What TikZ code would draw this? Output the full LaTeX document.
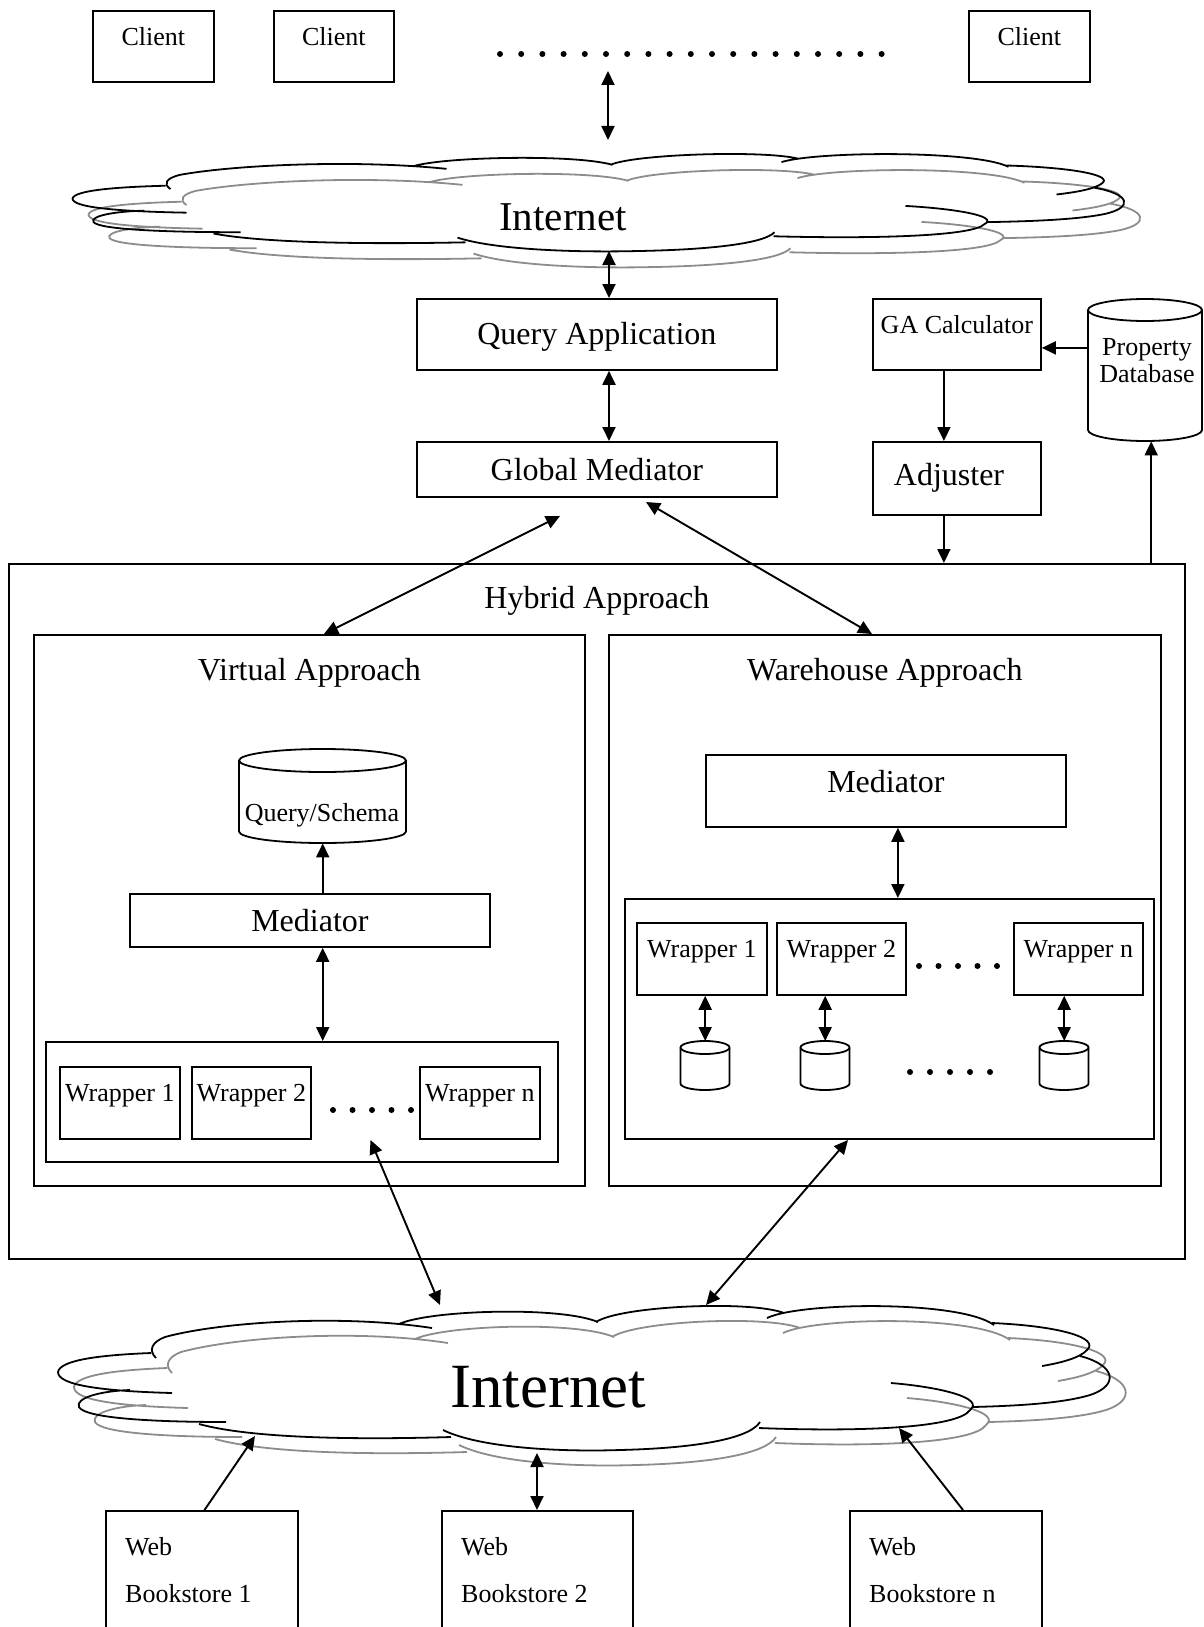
\documentclass[tikz,border=0pt]{standalone}
\usepackage{fontspec}
\setmainfont{Liberation Serif}
\usetikzlibrary{arrows.meta,calc}
\definecolor{cloudgray}{gray}{0.55}
\newcommand\dfsmall{\fontsize{26}{28}\selectfont}
\newcommand\dflarge{\fontsize{32}{36}\selectfont}
% cylinder: left, right, top, bottom, y radius
\newcommand\dbcyl[5]{%
  \draw[cylline] ({(#1+#2)/2},{#3+#5}) ellipse [x radius={(#2-#1)/2}, y radius={#5}];
  \draw[cylline] (#1,{#3+#5}) -- (#1,{#4-#5}) arc [start angle=180, end angle=0, x radius={(#2-#1)/2}, y radius={#5}] -- (#2,{#3+#5});
}
\newcommand\cloudlines[1]{%
  \draw[cl,#1]
   (156,1358) .. controls (148,1350) and (152,1342) .. (165,1337) .. controls (220,1322) and (340,1314) .. (432,1328)
   (399,1324) .. controls (430,1310) and (560,1306) .. (598,1322)
   (596,1322) .. controls (620,1306) and (750,1300) .. (784,1313)
   (767,1318) .. controls (800,1302) and (960,1300) .. (994,1325)
   (992,1323) .. controls (1060,1326) and (1100,1338) .. (1087,1350) .. controls (1080,1358) and (1060,1363) .. (1042,1366)
   (1080,1356) .. controls (1115,1365) and (1120,1385) .. (1090,1395) .. controls (1060,1404) and (1010,1406) .. (973,1407)
   (891,1383) .. controls (940,1387) and (985,1398) .. (970,1410) .. controls (958,1428) and (860,1432) .. (759,1428)
   (443,1430) .. controls (480,1448) and (560,1452) .. (620,1450) .. controls (700,1448) and (750,1438) .. (760,1422)
   (199,1424) .. controls (250,1438) and (350,1440) .. (451,1437)
   (226,1422) .. controls (150,1422) and (85,1418) .. (79,1407) .. controls (75,1398) and (100,1391) .. (130,1390)
   (172,1393) .. controls (100,1391) and (58,1385) .. (58,1372) .. controls (60,1360) and (100,1355) .. (151,1353);
}
\begin{document}
\begin{tikzpicture}[x=1pt,y=-1pt,
  bx/.style={draw, line width=1.8pt, inner sep=0pt, anchor=north west},
  phant/.style={inner sep=0pt, anchor=north west},
  txt/.style={inner sep=0pt},
  cylline/.style={line width=1.8pt},
  cl/.style={line width=1.8pt},
  onearr/.style={-{Triangle[length=14pt,width=13pt]}, line width=1.9pt},
  twoarr/.style={{Triangle[length=14pt,width=13pt]}-{Triangle[length=14pt,width=13pt]}, line width=1.9pt},
]
\useasboundingbox (0,0) rectangle (1204,1627);
\clip (0,0) rectangle (1204,1627);

% ---------- clients ----------
\node[bx, minimum width=121, text height=35, text depth=36, font=\dfsmall] (c1) at (92,10) {Client};
\node[bx, minimum width=120, text height=35, text depth=36, font=\dfsmall] (c2) at (273,10) {Client};
\node[bx, minimum width=121, text height=35, text depth=36, font=\dfsmall] (c3) at (968,10) {Client};
\foreach \i in {0,...,18} \fill (500+21.2*\i,54) circle [radius=3];
\coordinate (dotsdown) at (608,71);
\coordinate (tcltop) at (608,140);
\draw[twoarr] (dotsdown) -- (tcltop);

% ---------- clouds ----------
\begin{scope}[shift={(16,16)}]
  \begin{scope}[shift={(14.5,-726.2)}, yscale=0.674]\cloudlines{cloudgray}\end{scope}
\end{scope}
\begin{scope}[shift={(14.5,-726.2)}, yscale=0.674]\cloudlines{black}\end{scope}
\begin{scope}[shift={(16,15)}]\cloudlines{cloudgray}\end{scope}
\cloudlines{black}
\node[txt, anchor=base, font=\fontsize{41}{44}\selectfont] (tnet) at (563,230) {Internet};
\node[txt, anchor=base, font=\fontsize{63}{66}\selectfont] (bnet) at (548,1407) {Internet};

% ---------- query application / global mediator ----------
\coordinate (tclbot) at (609,251);
\node[bx, minimum width=360, text height=46, text depth=25, font=\dflarge] (qa) at (416,298) {Query Application};
\node[bx, minimum width=360, minimum height=55, font=\dflarge] (gm) at (416,441) {Global Mediator};
\draw[twoarr] (tclbot) -- (tclbot |- qa.north);
\draw[twoarr] (qa.south -| tclbot) -- (gm.north -| tclbot);

% ---------- GA calculator, adjuster, property DB ----------
\node[bx, minimum width=168, text height=35, text depth=36, font=\dfsmall] (ga) at (872,298) {GA Calculator};
\node[bx, minimum width=168, minimum height=73] (adj) at (872,441) {};
\node[txt, font=\dflarge] (adjt) at (949,478) {Adjuster};
\node[phant, minimum width=114, minimum height=142] (pd) at (1088,299) {};
\dbcyl{1088}{1202}{299}{441}{11}
\node[txt, align=center, font=\fontsize{26}{27}\selectfont] (pdt) at (1147,361) {Property\\Database};
\coordinate (gain) at ([yshift=-13.5pt]ga.east);
\draw[onearr] (gain -| pd.west) -- (gain);
\coordinate (gadown) at ([xshift=-13pt]ga.south);
\draw[onearr] (gadown) -- (gadown |- adj.north);

% ---------- hybrid ----------
\node[bx, minimum width=1176, text height=45, text depth=650, font=\dflarge] (hy) at (8,563) {Hybrid Approach};
\draw[onearr] (gadown |- adj.south) -- (gadown |- hy.north);
\coordinate (pdup) at ([xshift=6pt]pd.south);
\draw[onearr] (pdup |- hy.north) -- (pdup);

\node[bx, minimum width=551, text height=46, text depth=505, font=\dflarge] (va) at (33,634) {Virtual Approach};
\node[bx, minimum width=552, text height=46, text depth=505, font=\dflarge] (wa) at (608,634) {Warehouse Approach};
\coordinate (gml) at (560,516);
\coordinate (vain) at (324,634);
\draw[twoarr] (gml) -- (vain);
\coordinate (gmr) at (646,502);
\coordinate (wain) at (872,634);
\draw[twoarr] (gmr) -- (wain);

% ---------- virtual approach ----------
\node[phant, minimum width=167, minimum height=94] (qs) at (239,749) {};
\dbcyl{239}{406}{749}{843}{11.5}
\node[txt, font=\dfsmall] (qst) at (322,815) {Query/Schema};
\node[bx, minimum width=360, minimum height=53, font=\dflarge] (vm) at (129,893) {Mediator};
\draw[onearr] (qs.south |- vm.north) -- (qs.south);
\node[bx, minimum width=512, minimum height=120] (vc) at (45,1041) {};
\draw[twoarr] (qs.south |- vm.south) -- (qs.south |- vc.north);
\node[bx, minimum width=120, text height=35, text depth=37, font=\dfsmall] (vw1) at (59,1066) {Wrapper 1};
\node[bx, minimum width=119, text height=35, text depth=37, font=\dfsmall] (vw2) at (191,1066) {Wrapper 2};
\node[bx, minimum width=120, text height=35, text depth=37, font=\dfsmall] (vwn) at (419,1066) {Wrapper n};
\foreach \i in {0,...,4} \fill (333+19.5*\i,1110) circle [radius=3];
\coordinate (vca) at (370.5,1140);
\coordinate (vcb) at (440,1305);
\draw[twoarr] (vca) -- (vcb);

% ---------- warehouse approach ----------
\node[bx, minimum width=360, text height=37.5, text depth=34.5, font=\dflarge] (wm) at (705,754) {Mediator};
\node[bx, minimum width=529, minimum height=240] (wc) at (624,898) {};
\coordinate (wmx) at ([xshift=12pt]wm.south);
\draw[twoarr] (wmx) -- (wmx |- wc.north);
\node[bx, minimum width=130, text height=35, text depth=37, font=\dfsmall] (ww1) at (636,922) {Wrapper 1};
\node[bx, minimum width=129, text height=35, text depth=37, font=\dfsmall] (ww2) at (776,922) {Wrapper 2};
\node[bx, minimum width=129, text height=35, text depth=37, font=\dfsmall] (wwn) at (1013,922) {Wrapper n};
\foreach \i in {0,...,4} \fill (919+19.5*\i,966) circle [radius=3];
\node[phant, minimum width=49, minimum height=49] (wd1) at (680.5,1041) {};
\node[phant, minimum width=49, minimum height=49] (wd2) at (800.5,1041) {};
\node[phant, minimum width=49, minimum height=49] (wdn) at (1039.5,1041) {};
\dbcyl{680.5}{729.5}{1041}{1090}{6.5}
\dbcyl{800.5}{849.5}{1041}{1090}{6.5}
\dbcyl{1039.5}{1088.5}{1041}{1090}{6.5}
\draw[twoarr] (wd1.north |- ww1.south) -- (wd1.north);
\draw[twoarr] (wd2.north |- ww2.south) -- (wd2.north);
\draw[twoarr] (wdn.north |- wwn.south) -- (wdn.north);
\foreach \i in {0,...,4} \fill (910+20*\i,1072) circle [radius=3];
\coordinate (wca) at (848,1140);
\coordinate (wcb) at (706,1305);
\draw[twoarr] (wca) -- (wcb);

% ---------- bookstores ----------
\node[bx, minimum width=192, minimum height=150] (b1) at (105,1510) {};
\node[bx, minimum width=191, minimum height=150] (b2) at (441,1510) {};
\node[bx, minimum width=192, minimum height=150] (bn) at (849,1510) {};
\node[txt, anchor=base west, font=\dfsmall] (b1a) at (125,1555) {Web};
\node[txt, anchor=base west, font=\dfsmall] (b1b) at (125,1602) {Bookstore 1};
\node[txt, anchor=base west, font=\dfsmall] (b2a) at (461,1555) {Web};
\node[txt, anchor=base west, font=\dfsmall] (b2b) at (461,1602) {Bookstore 2};
\node[txt, anchor=base west, font=\dfsmall] (bna) at (869,1555) {Web};
\node[txt, anchor=base west, font=\dfsmall] (bnb) at (869,1602) {Bookstore n};
\coordinate (b1s) at (204.5,1510);
\coordinate (b1e) at (255,1436);
\draw[onearr] (b1s) -- (b1e);
\coordinate (b2e) at (537,1453);
\draw[twoarr] (b2e |- b2.north) -- (b2e);
\coordinate (bns) at (963,1510);
\coordinate (bne) at (899,1428);
\draw[onearr] (bns) -- (bne);
\end{tikzpicture}
\end{document}
